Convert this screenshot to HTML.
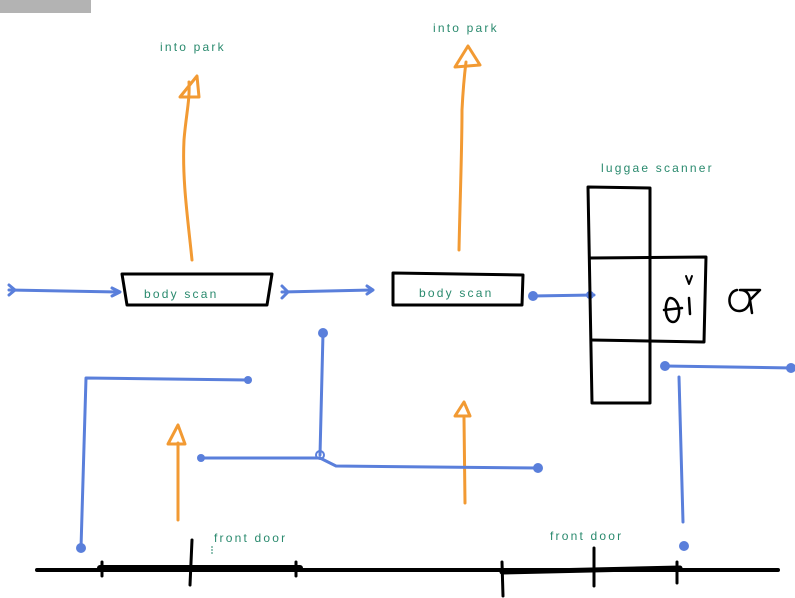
<!DOCTYPE html>
<html><head><meta charset="utf-8"><style>
html,body{margin:0;padding:0;background:#fff;width:795px;height:598px;overflow:hidden}
svg{display:block}
text{font-family:"Liberation Sans","DejaVu Sans",sans-serif;font-size:12px;fill:#2a8a6e;letter-spacing:2.2px}
</style></head><body>
<svg width="795" height="598" viewBox="0 0 795 598">
<rect x="0" y="0" width="91" height="13" fill="#b3b3b3"/>
<g fill="none" stroke-linecap="round" stroke-linejoin="round">
<g stroke="#f29a33" stroke-width="3">
<path d="M192 260 C188 220 182 180 184 140 C186 115 190 100 189 82"/>
<path d="M180 97 L197 76 L199 97 Z"/>
<path d="M459 250 C460 200 462 150 462 110 C463 90 465 70 466 62"/>
<path d="M455 67 L468 46 L480 65 Z"/>
<path d="M178 520 L178 443"/>
<path d="M168 444 L178 425 L185 444 Z"/>
<path d="M465 503 L464 418"/>
<path d="M455 416 L464 402 L470 416 Z"/>
</g>
<g stroke="#5a7fdb" stroke-width="3">
<path d="M9 290 L118 292"/><path d="M9 285 L15 290 L9 295"/><path d="M112 288 L120 292 L112 296"/>
<path d="M282 292 L372 290"/><path d="M282 286 L288 292 L282 298"/><path d="M367 286 L373 290 L367 294"/>
<path d="M532 296 L594 295"/>
<path d="M81 548 L86 378 L248 380"/>
<path d="M323 333 L320 455"/>
<path d="M200 458 L320 458 L336 466 L538 468"/>
<path d="M665 366 L793 368"/>
<path d="M679 377 L683 522"/>
</g>
<g fill="#5a7fdb">
<circle cx="81" cy="548" r="5"/><circle cx="323" cy="333" r="5"/><circle cx="538" cy="468" r="5"/>
<circle cx="533" cy="296" r="5"/><circle cx="665" cy="366" r="5"/><circle cx="791" cy="368" r="5"/>
<circle cx="684" cy="546" r="5"/><circle cx="590" cy="295" r="4"/><circle cx="248" cy="380" r="4"/><circle cx="201" cy="458" r="4"/>
<circle cx="320" cy="455" r="4" fill="none" stroke="#5a7fdb" stroke-width="2"/>
</g>
<g stroke="#000" stroke-width="3">
<path d="M122 274 L272 274 L267 305 L127 305 Z"/>
<path d="M393 273 L523 275 L522 305 L393 305 Z"/>
<path d="M588 187 L650 188 L650 403 L592 403 Z"/>
<path d="M590 258 L706 257 L704 342 L591 340"/>
<path d="M37 570 L778 570" stroke-width="4"/>
<path d="M100 568 L300 568" stroke-width="6"/>
<path d="M502 572 L680 568" stroke-width="5"/>
<path d="M102 562 L102 576"/><path d="M192 540 L190 585"/><path d="M296 562 L296 576"/>
<path d="M502 562 L503 596"/><path d="M594 548 L594 586"/><path d="M677 562 L677 583"/>
<path d="M670 298 C664 300 664 322 673 322 C682 322 681 298 670 298 Z" stroke-width="2.5"/>
<path d="M664 310 L682 308" stroke-width="2.5"/>
<path d="M689 298 L690 314" stroke-width="2.5"/>
<path d="M686 276 L689 284 L692 276" stroke-width="2"/>
<path d="M737 290 C726 292 727 312 740 311 C752 310 754 290 740 290 L760 290 L750 300 L752 313" stroke-width="2.5"/>
</g>
</g>
<text x="160" y="51">into park</text>
<text x="433" y="32">into park</text>
<text x="601" y="172">luggae scanner</text>
<text x="144" y="298">body scan</text>
<text x="419" y="297">body scan</text>
<text x="214" y="542">front door</text>
<text x="550" y="540">front door</text>
<path d="M212 546 L212 554" stroke="#2a8a6e" stroke-width="1" stroke-dasharray="2 1"/>
</svg>
</body></html>
